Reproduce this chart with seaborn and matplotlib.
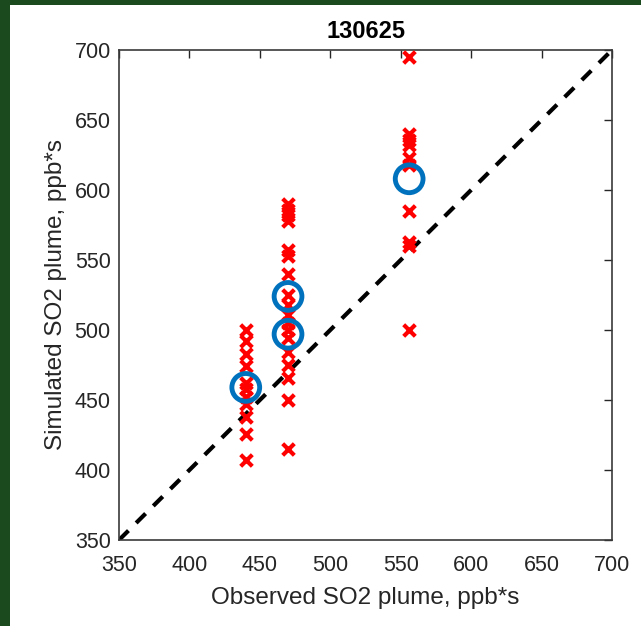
import matplotlib
matplotlib.use("Agg")
import matplotlib.pyplot as plt
import matplotlib.patches as mpatches
import seaborn as sns
import pandas as pd

# Data
obs_440 = 440
sim_440 = [500, 492, 483, 474, 462, 458, 452, 447, 438, 426, 407]
obs_470 = 470
sim_470 = [590, 586, 582, 578, 557, 553, 540, 525, 518, 511, 505, 500, 494, 484, 475, 466, 450, 415]
obs_556 = 556
sim_556 = [695, 640, 636, 632, 623, 618, 585, 563, 560, 500]

mean_obs = [440, 470, 470, 556]
mean_sim = [459, 524, 497, 608]

title = "130625"
xlabel = "Observed SO2 plume, ppb*s"
ylabel = "Simulated SO2 plume, ppb*s"
ticks = [350, 400, 450, 500, 550, 600, 650, 700]

sns.set_style("white")
plt.rcParams['font.family'] = ['Liberation Sans', 'DejaVu Sans']

df = pd.DataFrame({
    "obs": [obs_440] * len(sim_440) + [obs_470] * len(sim_470) + [obs_556] * len(sim_556),
    "sim": sim_440 + sim_470 + sim_556,
})
dfm = pd.DataFrame({"obs": mean_obs, "sim": mean_sim})

fig = plt.figure(figsize=(6.41, 6.26), dpi=100)
fig.patch.set_facecolor("white")
green = "#1b4a1f"
fig.patches.append(mpatches.Rectangle((0, 0), 10 / 641, 1, transform=fig.transFigure,
                                      facecolor=green, edgecolor="none", zorder=-10))
fig.patches.append(mpatches.Rectangle((0, 1 - 5 / 626), 1, 5 / 626, transform=fig.transFigure,
                                      facecolor=green, edgecolor="none", zorder=-10))

ax = fig.add_axes([119 / 641, 86 / 626, 493 / 641, 490 / 626])

ax.plot([350, 700], [350, 700], color="black", linestyle=(0, (3.2, 2.6)), linewidth=3, zorder=1)

sns.scatterplot(data=df, x="obs", y="sim", marker="x", ax=ax, color="#ff0000",
                s=70, linewidth=3, legend=False, zorder=3)
sns.scatterplot(data=dfm, x="obs", y="sim", ax=ax, marker="o", s=400,
                facecolor="none", edgecolor="#0072BD", linewidth=3.5, legend=False, zorder=4)

ax.set_xlim(350, 700)
ax.set_ylim(350, 700)
ax.set_xticks(ticks)
ax.set_yticks(ticks)
ax.tick_params(direction="in", length=6, width=1, top=True, right=True,
               labelsize=15.5, colors="#262626")
ax.tick_params(axis="x", pad=11)
ax.tick_params(axis="y", pad=6)
for sp in ax.spines.values():
    sp.set_color("#3a3a3a")
    sp.set_linewidth(1.2)
ax.set_xlabel(xlabel, fontsize=17.5, color="#262626", labelpad=8)
ax.set_ylabel(ylabel, fontsize=17.5, color="#262626", labelpad=5)
ax.set_title(title, fontsize=17, fontweight="bold", color="black", pad=9)

fig.savefig("out.png", dpi=100)
